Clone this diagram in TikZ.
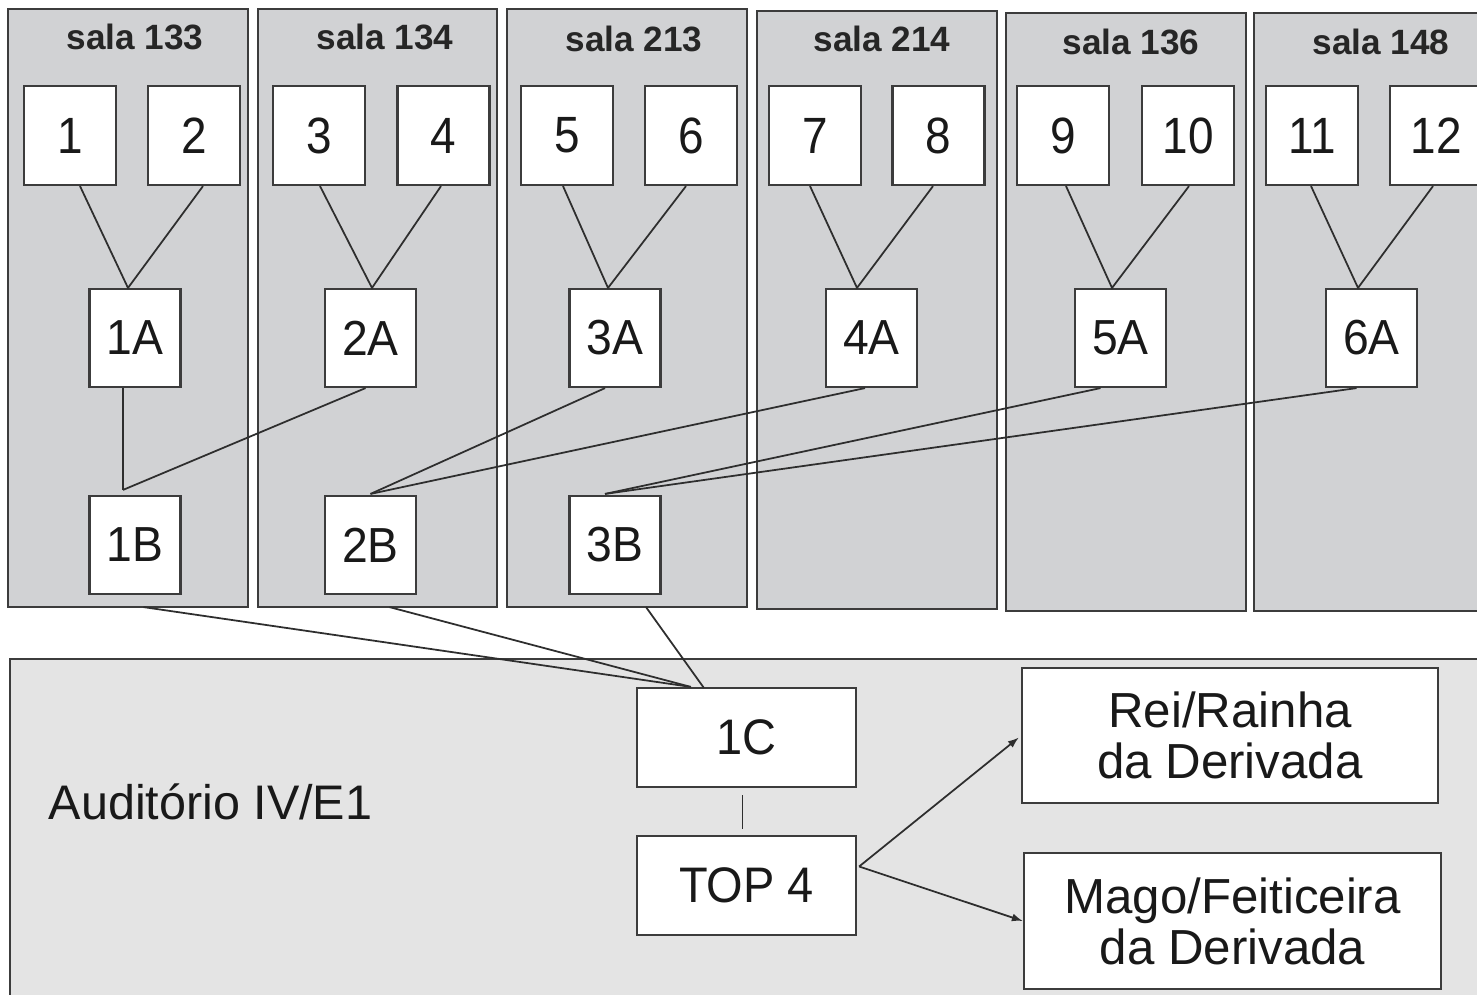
\documentclass[tikz,border=0pt]{standalone}
\usepackage{fontspec}
\setmainfont{Liberation Sans}
\newfontfamily\boxfont{Liberation Sans}[FakeStretch=0.9]
\newfontfamily\labfont{Liberation Sans}[FakeStretch=0.94]
\usetikzlibrary{calc,arrows.meta}
\definecolor{roomgray}{HTML}{D1D2D4}
\definecolor{hallgray}{HTML}{E4E4E4}
\definecolor{edgegray}{HTML}{3C3C3C}
\definecolor{linegray}{HTML}{2E2E2E}
\begin{document}
\begin{tikzpicture}[x=0.01cm,y=-0.01cm,
  panel/.style={draw=edgegray, line width=0.6pt, fill=roomgray, inner sep=0pt, minimum width=2.40cm, minimum height=5.98cm},
  hall/.style={draw=edgegray, line width=0.6pt, fill=hallgray, inner sep=0pt},
  hdr/.style={font=\fontsize{10}{12}\selectfont\bfseries, text=black!85, inner sep=0pt},
  seat/.style={draw=edgegray, line width=0.6pt, fill=white, inner sep=0pt, minimum width=0.92cm, minimum height=0.99cm, font=\boxfont\fontsize{14.5}{16}\selectfont, text=black!90},
  pair/.style={seat, minimum width=0.91cm, minimum height=0.98cm, font=\labfont\fontsize{14}{16}\selectfont},
  wide/.style={seat, minimum width=2.19cm, minimum height=0.99cm, font=\labfont\fontsize{14.2}{16}\selectfont},
  prize/.style={seat, minimum width=4.16cm, minimum height=1.35cm, align=center, font=\fontsize{14}{14.5}\selectfont},
  conn/.style={draw=linegray, line width=0.5pt},
  arr/.style={conn, -{Latex[length=1.1mm,width=0.8mm]}}
]
\fill[white] (0,0) rectangle (1477,994);
\useasboundingbox (0,0) rectangle (1477,994);
\clip (0,0) rectangle (1477,994);

% room panels
\node[panel] (p1) at (128,308) {};
\node[panel, minimum width=2.39cm] (p2) at (377.5,308) {};
\node[panel] (p3) at (627,308) {};
\node[panel] (p4) at (877,310) {};
\node[panel] (p5) at (1126,312) {};
\node[panel] (p6) at (1374,312) {};
% auditorium
\node[hall, minimum width=14.90cm, minimum height=3.50cm] (hall) at (755,834) {};

% headers
\node[hdr] (h1) at (135,37) {sala 133};
\node[hdr] (h2) at (385,37) {sala 134};
\node[hdr] (h3) at (634,39) {sala 213};
\node[hdr] (h4) at (882,39) {sala 214};
\node[hdr] (h5) at (1131,42) {sala 136};
\node[hdr] (h6) at (1381,42) {sala 148};

% first level
\node[seat] (n1) at (70,135.5) {1};
\node[seat] (n2) at (194,135.5) {2};
\node[seat] (n3) at (319,135.5) {3};
\node[seat] (n4) at (443.5,135.5) {4};
\node[seat] (n5) at (567,135.5) {5};
\node[seat] (n6) at (691,135.5) {6};
\node[seat] (n7) at (815,135.5) {7};
\node[seat] (n8) at (938.5,135.5) {8};
\node[seat] (n9) at (1063,135.5) {9};
\node[seat] (n10) at (1188,135.5) {10};
\node[seat] (n11) at (1312,135.5) {11};
\node[seat] (n12) at (1436,135.5) {12};

% A level
\node[pair] (a1) at (135,338) {1A};
\node[pair] (a2) at (370.5,338) {2A};
\node[pair] (a3) at (615,338) {3A};
\node[pair] (a4) at (871.5,338) {4A};
\node[pair] (a5) at (1120.5,338) {5A};
\node[pair] (a6) at (1371.5,338) {6A};

% B level
\node[pair] (b1) at (135,545) {1B};
\node[pair] (b2) at (370.5,545) {2B};
\node[pair] (b3) at (615,545) {3B};

% final
\node[wide] (c1) at (746.5,737.5) {1C};
\node[wide] (top) at (746.5,885.5) {TOP 4};
\node[prize] (rei) at (1230,735.5) {Rei/Rainha\\da Derivada};
\node[prize, minimum width=4.17cm, minimum height=1.36cm] (mago) at (1232.5,921) {Mago/Feiticeira\\da Derivada};

% auditorium label
\node[font=\fontsize{13.8}{16}\selectfont, text=black!90, anchor=west, inner sep=0pt] (aud) at (48,802) {Auditório IV/E1};

% junctions
\coordinate (ja1) at ($(a1.north)+(-7,0)$);
\coordinate (ja2) at ($(a2.north)+(1.5,0)$);
\coordinate (ja3) at ($(a3.north)+(-7,0)$);
\coordinate (ja4) at ($(a4.north)+(-14.5,0)$);
\coordinate (ja5) at ($(a5.north)+(-8.5,0)$);
\coordinate (ja6) at ($(a6.north)+(-13.5,0)$);
\coordinate (jb1) at ($(b1.north)+(-12,-5)$);
\coordinate (jb2) at ($(b2.north)+(0,-1)$);
\coordinate (jb3) at ($(b3.north)+(-10,-1)$);
\coordinate (sb1) at ($(b1.south)+(8.5,12)$);
\coordinate (sb2) at ($(b2.south)+(19,12)$);
\coordinate (sb3) at ($(b3.south)+(31,12)$);
\coordinate (jc1) at ($(c1.north west)+(55,0)$);
\coordinate (jc2) at ($(c1.north west)+(68,1)$);
\coordinate (t0) at ($(top.east)+(2,-19)$);

% seats to A
\draw[conn] ($(n1.south)+(10,0)$) -- (ja1) -- ($(n2.south)+(9,0)$);
\draw[conn] ($(n3.south)+(1,0)$) -- (ja2) -- ($(n4.south)+(-2.5,0)$);
\draw[conn] ($(n5.south)+(-4,0)$) -- (ja3) -- ($(n6.south)+(-5,0)$);
\draw[conn] ($(n7.south)+(-5,0)$) -- (ja4) -- ($(n8.south)+(-5.5,0)$);
\draw[conn] ($(n9.south)+(3,0)$) -- (ja5) -- ($(n10.south)+(1,0)$);
\draw[conn] ($(n11.south)+(-1,0)$) -- (ja6) -- ($(n12.south)+(-3,0)$);

% A to B
\draw[conn] ($(a1.south)+(-12,0)$) -- (jb1);
\draw[conn] ($(a2.south)+(-5,0)$) -- (jb1);
\draw[conn] ($(a3.south)+(-10,0)$) -- (jb2);
\draw[conn] ($(a4.south)+(-6.5,0)$) -- (jb2);
\draw[conn] ($(a5.south)+(-20,0)$) -- (jb3);
\draw[conn] ($(a6.south)+(-15,0)$) -- (jb3);

% B to C
\draw[conn] (sb1) -- (jc1);
\draw[conn] (sb2) -- (jc1);
\draw[conn] (sb3) -- (jc2);

% C to TOP 4
\draw[conn] ($(c1.south)+(-4,7)$) -- ($(top.north)+(-4,-6)$);

% arrows
\draw[arr] (t0) -- ($(rei.west)+(-2,2)$);
\draw[arr] (t0) -- (mago.west);
\end{tikzpicture}
\end{document}
